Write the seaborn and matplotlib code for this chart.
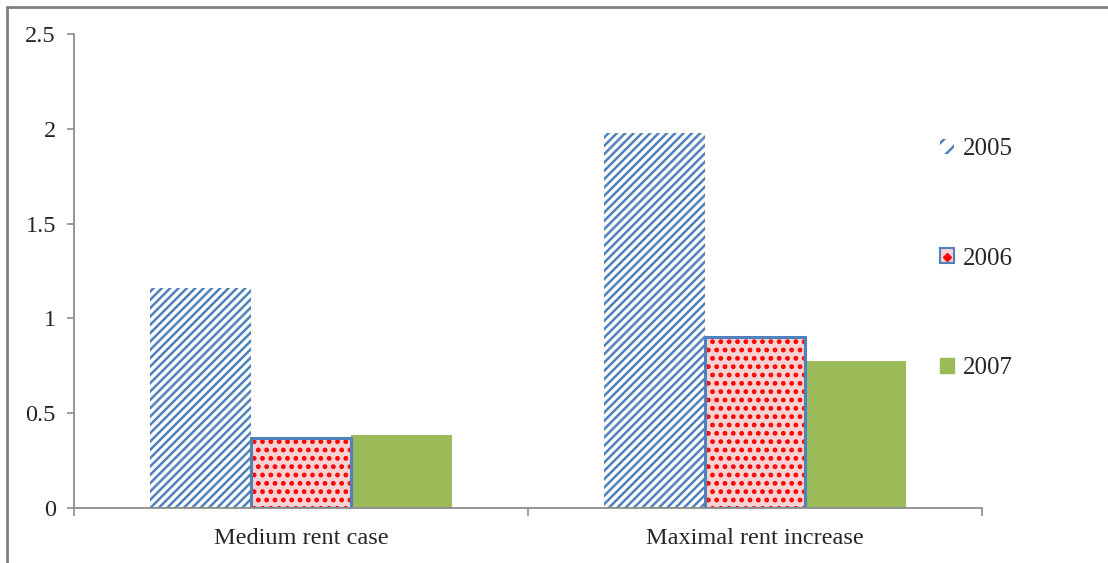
import matplotlib
matplotlib.use("Agg")
import matplotlib.pyplot as plt
from matplotlib.patches import Patch, Rectangle
from matplotlib.lines import Line2D
from matplotlib.legend_handler import HandlerTuple
import seaborn as sns
import pandas as pd

categories = ["Medium rent case", "Maximal rent increase"]
years = ["2005", "2006", "2007"]
values_2005 = [1.16, 1.98]
values_2006 = [0.37, 0.90]
values_2007 = [0.385, 0.775]
y_ticks = [0, 0.5, 1, 1.5, 2, 2.5]
y_tick_labels = ["0", "0.5", "1", "1.5", "2", "2.5"]

BLUE = "#4f81bd"
RED = "#ff0000"
PINK = "#f6d2d2"
GREEN = "#9bbb59"
GRAY = "#8c8c8c"

rows = []
for yr, vals in zip(years, [values_2005, values_2006, values_2007]):
    for cat, v in zip(categories, vals):
        rows.append({"case": cat, "year": yr, "value": v})
df = pd.DataFrame(rows)

sns.set_style("white")
plt.rcParams["font.family"] = ["Liberation Serif", "DejaVu Serif"]
plt.rcParams["hatch.linewidth"] = 1.8

fig = plt.figure(figsize=(11.08, 5.63), dpi=100)
ax = fig.add_axes([0.0668, 0.0977, 0.8195, 0.8419])

sns.barplot(data=df, x="case", y="value", hue="year", order=categories,
            hue_order=years, palette=[BLUE, PINK, GREEN], width=0.667,
            saturation=1, ax=ax, legend=False)


def set_hatch_lw(patch, lw):
    if hasattr(patch, "set_hatch_linewidth"):
        patch.set_hatch_linewidth(lw)


# 2005: blue diagonal stripes on white
for bar in ax.containers[0]:
    bar.set_facecolor("white")
    bar.set_edgecolor(BLUE)
    bar.set_hatch("////")
    bar.set_linewidth(0)
    set_hatch_lw(bar, 1.8)

# 2006: red dots on pink with a blue outline
for bar in ax.containers[1]:
    bar.set_facecolor(PINK)
    bar.set_edgecolor(RED)
    bar.set_hatch("..")
    bar.set_linewidth(0)
    set_hatch_lw(bar, 2.2)
    ax.add_patch(Rectangle((bar.get_x(), bar.get_y()), bar.get_width(),
                           bar.get_height(), facecolor="none",
                           edgecolor=BLUE, linewidth=2.2, zorder=bar.get_zorder() + 0.1))

# 2007: solid green
for bar in ax.containers[2]:
    bar.set_facecolor(GREEN)
    bar.set_edgecolor(GREEN)
    bar.set_linewidth(0)

ax.set_ylim(0, 2.5)
ax.set_xlim(-0.5, len(categories) - 0.5)
ax.set_yticks(y_ticks)
ax.set_yticklabels(y_tick_labels)
ax.set_xlabel("")
ax.set_ylabel("")

# category separators as minor ticks, labels centered without ticks
ax.set_xticks([i - 0.5 for i in range(len(categories) + 1)], minor=True)
ax.tick_params(axis="x", which="major", length=0, pad=14.5, labelsize=17.5)
ax.tick_params(axis="x", which="minor", length=6, width=1.2, color=GRAY,
               direction="out", bottom=True)
ax.tick_params(axis="y", which="major", length=5, width=1.2, color=GRAY,
               direction="out", left=True, pad=8, labelsize=17.5)

for side in ["top", "right"]:
    ax.spines[side].set_visible(False)
for side in ["left", "bottom"]:
    ax.spines[side].set_color(GRAY)
    ax.spines[side].set_linewidth(1.3)

# legend
h2005 = Patch(facecolor="white", edgecolor=BLUE, hatch="//", linewidth=0)
h2006 = (Patch(facecolor=PINK, edgecolor=BLUE, linewidth=1.5),
         Line2D([], [], marker="D", color=RED, markersize=4, linestyle="none"))
h2007 = Patch(facecolor=GREEN, edgecolor=GREEN)
leg = fig.legend([h2005, h2006, h2007], years, loc="upper left",
                 bbox_to_anchor=(0.828, 0.7943), frameon=False, fontsize=18,
                 handlelength=0.55, handleheight=0.55, handletextpad=0.35,
                 labelspacing=3.5, handler_map={tuple: HandlerTuple(ndivide=1)})

# outer frame along the top and left edge
fig.add_artist(Line2D([0.0063, 0.0063], [0.0, 0.9876], transform=fig.transFigure,
                      color="#7f7f7f", linewidth=2))
fig.add_artist(Line2D([0.0063, 1.0], [0.9876, 0.9876], transform=fig.transFigure,
                      color="#7f7f7f", linewidth=2))

fig.savefig("out.png", dpi=100)
